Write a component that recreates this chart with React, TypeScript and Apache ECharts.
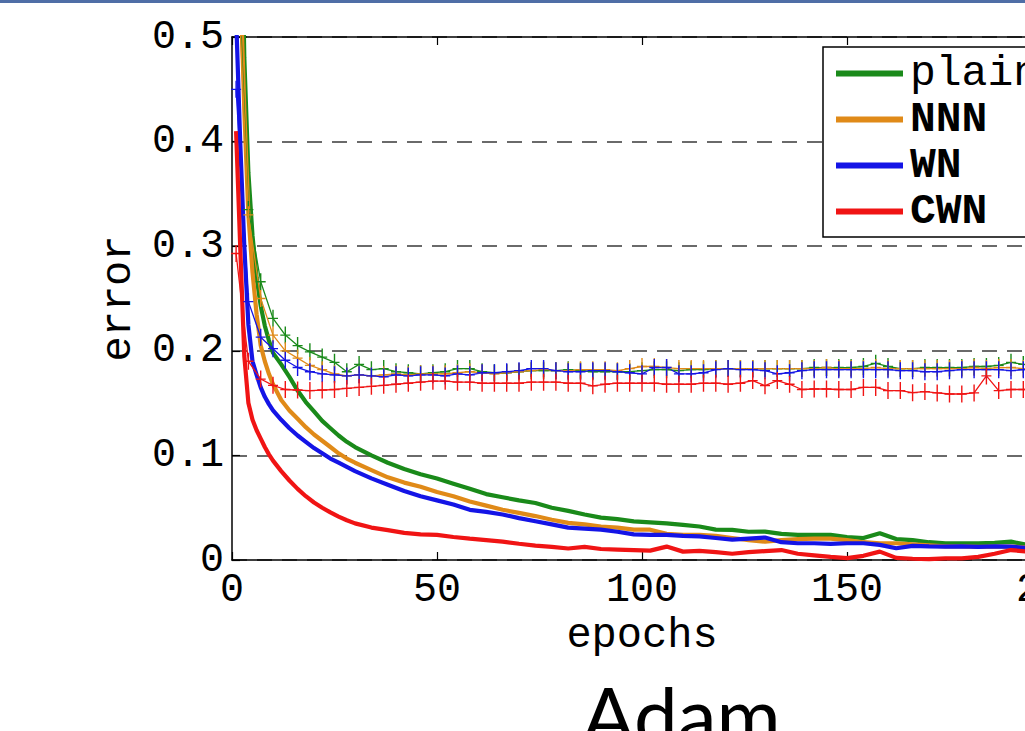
import React, { useEffect, useRef } from "react";
import * as echarts from "echarts";

// ---- data ----
const methods = ["plain", "NNN", "WN", "CWN"];
const colors = ["#1a8a1a", "#e08a18", "#1414e6", "#f01414"];

const trainEpochs = [1, 2, 3, 4, 5, 6, 7, 8, 9, 10, 12, 14, 16, 18, 20, 22, 24, 26, 28, 30,
  34, 38, 42, 46, 50, 54, 58, 62, 66, 70, 74, 78, 82, 86, 90, 94, 98, 102, 106, 110,
  114, 118, 122, 126, 130, 134, 138, 142, 146, 150, 154, 158, 162, 166, 170, 174, 178, 182, 186, 190,
  194, 198];

const trainPlain = [0.95, 0.7, 0.48, 0.37, 0.31, 0.27, 0.243, 0.224, 0.21, 0.198, 0.187, 0.175, 0.162, 0.151, 0.142, 0.133, 0.126, 0.119, 0.113, 0.108,
  0.1, 0.093, 0.087, 0.082, 0.078, 0.073, 0.068, 0.063, 0.06, 0.057, 0.0545, 0.05, 0.047, 0.0435, 0.0405, 0.039, 0.037, 0.036, 0.035, 0.0335,
  0.032, 0.029, 0.0288, 0.027, 0.0272, 0.025, 0.024, 0.024, 0.024, 0.022, 0.021, 0.0256, 0.02, 0.019, 0.017, 0.016, 0.016, 0.016, 0.0165, 0.0176,
  0.0144, 0.014];
const trainNNN = [0.9, 0.56, 0.43, 0.33, 0.275, 0.235, 0.205, 0.19, 0.178, 0.168, 0.153, 0.143, 0.135, 0.127, 0.12, 0.114, 0.108, 0.102, 0.097, 0.093,
  0.086, 0.079, 0.074, 0.07, 0.065, 0.061, 0.056, 0.052, 0.048, 0.045, 0.042, 0.0385, 0.0355, 0.034, 0.032, 0.031, 0.029, 0.029, 0.025, 0.024,
  0.024, 0.023, 0.021, 0.019, 0.0175, 0.019, 0.02, 0.0205, 0.0205, 0.019, 0.017, 0.016, 0.016, 0.015, 0.014, 0.013, 0.013, 0.0125, 0.0128, 0.0128,
  0.012, 0.012];
const trainWN = [0.52, 0.4, 0.3, 0.225, 0.19, 0.177, 0.165, 0.156, 0.149, 0.143, 0.134, 0.126, 0.119, 0.113, 0.107, 0.102, 0.097, 0.093, 0.089, 0.085,
  0.078, 0.072, 0.066, 0.061, 0.057, 0.053, 0.048, 0.046, 0.0435, 0.04, 0.037, 0.034, 0.031, 0.03, 0.029, 0.027, 0.0245, 0.024, 0.024, 0.023,
  0.0225, 0.021, 0.0195, 0.0205, 0.0215, 0.017, 0.016, 0.016, 0.0155, 0.016, 0.016, 0.0145, 0.0112, 0.0135, 0.013, 0.0128, 0.013, 0.0125, 0.013, 0.0128,
  0.0115, 0.011];
const trainCWN = [0.41, 0.3, 0.195, 0.15, 0.134, 0.124, 0.116, 0.108, 0.101, 0.095, 0.085, 0.076, 0.068, 0.061, 0.055, 0.05, 0.0455, 0.0415, 0.038, 0.035,
  0.031, 0.0285, 0.026, 0.0245, 0.024, 0.022, 0.0205, 0.019, 0.0175, 0.0155, 0.0138, 0.0125, 0.011, 0.0125, 0.0105, 0.01, 0.0095, 0.009, 0.0128, 0.008,
  0.0088, 0.0075, 0.006, 0.0075, 0.0085, 0.0095, 0.006, 0.0045, 0.003, 0.0018, 0.004, 0.008, 0.002, 0.0012, 0.0008, 0.0015, 0.0015, 0.003, 0.006, 0.0095,
  0.008, 0.009];

const testEpochs = [1, 4, 7, 10, 13, 16, 19, 22, 25, 28, 31, 34, 37, 40, 43, 46, 49, 52, 55, 58,
  61, 64, 67, 70, 73, 76, 79, 82, 85, 88, 91, 94, 97, 100, 103, 106, 109, 112, 115, 118,
  121, 124, 127, 130, 133, 136, 139, 142, 145, 148, 151, 154, 157, 160, 163, 166, 169, 172, 175, 178,
  181, 184, 187, 190, 193, 196, 199];

const testPlain = [0.62, 0.335, 0.266, 0.231, 0.215, 0.205, 0.199, 0.194, 0.189, 0.18, 0.187, 0.182, 0.183, 0.18, 0.179, 0.178,
  0.179, 0.18, 0.183, 0.183, 0.18, 0.179, 0.179, 0.18, 0.181, 0.181, 0.181, 0.182, 0.181, 0.18, 0.18, 0.18, 0.18, 0.181, 0.182, 0.182,
  0.181, 0.182, 0.182, 0.183, 0.183, 0.183, 0.183, 0.183, 0.183, 0.183, 0.183, 0.184, 0.184, 0.184, 0.184, 0.185, 0.188, 0.185, 0.183, 0.183,
  0.184, 0.184, 0.184, 0.184, 0.185, 0.185, 0.186, 0.189, 0.187, 0.186, 0.186];
const testNNN = [0.6, 0.33, 0.25, 0.215, 0.2, 0.193, 0.186, 0.182, 0.178, 0.176, 0.177, 0.176, 0.177, 0.178, 0.177, 0.178,
  0.178, 0.178, 0.179, 0.18, 0.179, 0.178, 0.179, 0.18, 0.181, 0.182, 0.181, 0.181, 0.182, 0.182, 0.182, 0.181, 0.183, 0.185, 0.185, 0.184,
  0.183, 0.183, 0.183, 0.183, 0.183, 0.183, 0.183, 0.183, 0.183, 0.183, 0.183, 0.183, 0.184, 0.183, 0.183, 0.183, 0.184, 0.183, 0.183, 0.183,
  0.183, 0.183, 0.183, 0.183, 0.184, 0.183, 0.184, 0.184, 0.183, 0.183, 0.183];
const testWN = [0.45, 0.247, 0.213, 0.202, 0.191, 0.184, 0.18, 0.178, 0.177, 0.176, 0.177, 0.176, 0.175, 0.177, 0.176, 0.177,
  0.177, 0.176, 0.178, 0.177, 0.179, 0.179, 0.18, 0.181, 0.183, 0.183, 0.181, 0.18, 0.18, 0.181, 0.181, 0.18, 0.179, 0.178, 0.184, 0.184,
  0.178, 0.178, 0.179, 0.182, 0.183, 0.182, 0.182, 0.181, 0.178, 0.179, 0.181, 0.182, 0.182, 0.182, 0.182, 0.182, 0.182, 0.182, 0.181, 0.181,
  0.18, 0.18, 0.181, 0.182, 0.182, 0.182, 0.182, 0.181, 0.182, 0.182, 0.182];
const testCWN = [0.293, 0.19, 0.173, 0.167, 0.163, 0.1625, 0.162, 0.1625, 0.163, 0.164, 0.165, 0.166, 0.167, 0.168, 0.169, 0.17,
  0.171, 0.171, 0.17, 0.17, 0.169, 0.169, 0.169, 0.169, 0.17, 0.17, 0.17, 0.169, 0.169, 0.1665, 0.168, 0.169, 0.169, 0.169, 0.169, 0.168,
  0.168, 0.168, 0.169, 0.169, 0.168, 0.169, 0.1715, 0.1667, 0.1715, 0.168, 0.163, 0.1635, 0.1635, 0.163, 0.163, 0.165, 0.165, 0.162, 0.162, 0.16,
  0.161, 0.1597, 0.1587, 0.1587, 0.1597, 0.176, 0.162, 0.163, 0.163, 0.163, 0.164];

const xTicks = { min: 0, max: 200, interval: 50 };
const yTicks = { min: 0, max: 0.5, interval: 0.1 };

const trainSets = [trainPlain, trainNNN, trainWN, trainCWN];
const testSets = [testPlain, testNNN, testWN, testCWN];

const plusSymbol =
  "path://M4.3,0 H5.7 V8.3 H10 V9.7 H5.7 V18 H4.3 V9.7 H0 V8.3 H4.3 Z";

const mono = "'Liberation Mono', 'DejaVu Sans Mono', monospace";

export default function App() {
  const ref = useRef<HTMLDivElement>(null);

  useEffect(() => {
    if (!ref.current) return;
    const chart = echarts.init(ref.current, null, { renderer: "svg" });

    const trainSeries = methods.map((m, i) => ({
      name: m,
      type: "line",
      xAxisIndex: 0,
      yAxisIndex: 0,
      data: trainEpochs.map((e, k) => [e, trainSets[i][k]]),
      showSymbol: false,
      symbol: "none",
      clip: true,
      lineStyle: { color: colors[i], width: 4.2 },
      itemStyle: { color: colors[i] },
      emphasis: { disabled: true },
      z: 2,
    }));
    const testSeries = methods.map((m, i) => ({
      name: m + " test",
      type: "line",
      xAxisIndex: 0,
      yAxisIndex: 0,
      data: testEpochs.map((e, k) => [e, testSets[i][k]]),
      symbol: plusSymbol,
      symbolSize: [10, 17],
      showSymbol: true,
      clip: true,
      lineStyle: { color: colors[i], width: 1.3 },
      itemStyle: { color: colors[i] },
      emphasis: { disabled: true },
      z: 3,
    }));

    const axisCommonX = {
      type: "value",
      min: xTicks.min,
      max: xTicks.max,
      interval: xTicks.interval,
      axisLine: { show: true, onZero: false, lineStyle: { color: "#000", width: 1.5 } },
      axisTick: { show: true, inside: true, length: 8, lineStyle: { color: "#000", width: 1.2 } },
      splitLine: { show: false },
    };
    const axisCommonY = {
      type: "value",
      min: yTicks.min,
      max: yTicks.max,
      interval: yTicks.interval,
      axisLine: { show: true, onZero: false, lineStyle: { color: "#000", width: 1.5 } },
      axisTick: { show: true, inside: true, length: 8, lineStyle: { color: "#000", width: 1.2 } },
    };

    chart.setOption({
      animation: false,
      backgroundColor: "#fff",
      grid: { left: 232, top: 37, width: 820, height: 523, containLabel: false },
      xAxis: [
        {
          ...axisCommonX,
          position: "bottom",
          name: "epochs",
          nameLocation: "middle",
          nameGap: 40,
          nameTextStyle: { fontFamily: mono, fontSize: 42, color: "#000" },
          axisLabel: { show: true, margin: 10, fontFamily: mono, fontSize: 40, color: "#000" },
        },
        {
          ...axisCommonX,
          position: "top",
          axisLabel: { show: false },
        },
      ],
      yAxis: [
        {
          ...axisCommonY,
          position: "left",
          name: "error",
          nameLocation: "middle",
          nameGap: 92,
          nameTextStyle: { fontFamily: mono, fontSize: 42, color: "#000" },
          axisLabel: {
            show: true,
            margin: 8,
            fontFamily: mono,
            fontSize: 40,
            color: "#000",
            formatter: (v: number) => (v === 0 ? "0" : v.toFixed(1)),
          },
          splitLine: {
            show: true,
            lineStyle: { color: "#3a3a3a", width: 1.5, type: [15, 10] },
          },
        },
        {
          ...axisCommonY,
          position: "right",
          axisLabel: { show: false },
          splitLine: { show: false },
        },
      ],
      legend: {
        data: methods,
        orient: "vertical",
        left: 823,
        top: 47,
        padding: [5, 14, 4, 13],
        itemGap: 3,
        itemWidth: 67,
        itemHeight: 6,
        icon: "rect",
        backgroundColor: "#fff",
        borderColor: "#000",
        borderWidth: 1.5,
        borderRadius: 0,
        selectedMode: false,
        formatter: (name: string) => (name === "plain" ? `{p|${name}}` : `{b|${name}}`),
        textStyle: {
          color: "#000",
          rich: {
            p: { fontFamily: mono, fontSize: 43, fontWeight: "normal", color: "#000", padding: [0, 0, 0, 2] },
            b: { fontFamily: mono, fontSize: 43, fontWeight: "bold", color: "#000", padding: [0, 0, 0, 2] },
          },
        },
      },
      graphic: [
        { type: "rect", left: 0, top: 0, shape: { width: 1100, height: 3 }, style: { fill: "#4f6ea6" }, z: 100 },
        {
          type: "text",
          left: 582,
          top: 675,
          style: { text: "Adam", font: "78px Lato, 'Open Sans', sans-serif", fill: "#000" },
          z: 100,
        },
      ],
      series: [...trainSeries, ...testSeries],
    });

    return () => chart.dispose();
  }, []);

  return (
    <div
      style={{
        position: "fixed",
        left: 0,
        top: 0,
        width: 1025,
        height: 731,
        overflow: "hidden",
        background: "#fff",
      }}
    >
      <div ref={ref} style={{ width: 1100, height: 731 }} />
    </div>
  );
}
